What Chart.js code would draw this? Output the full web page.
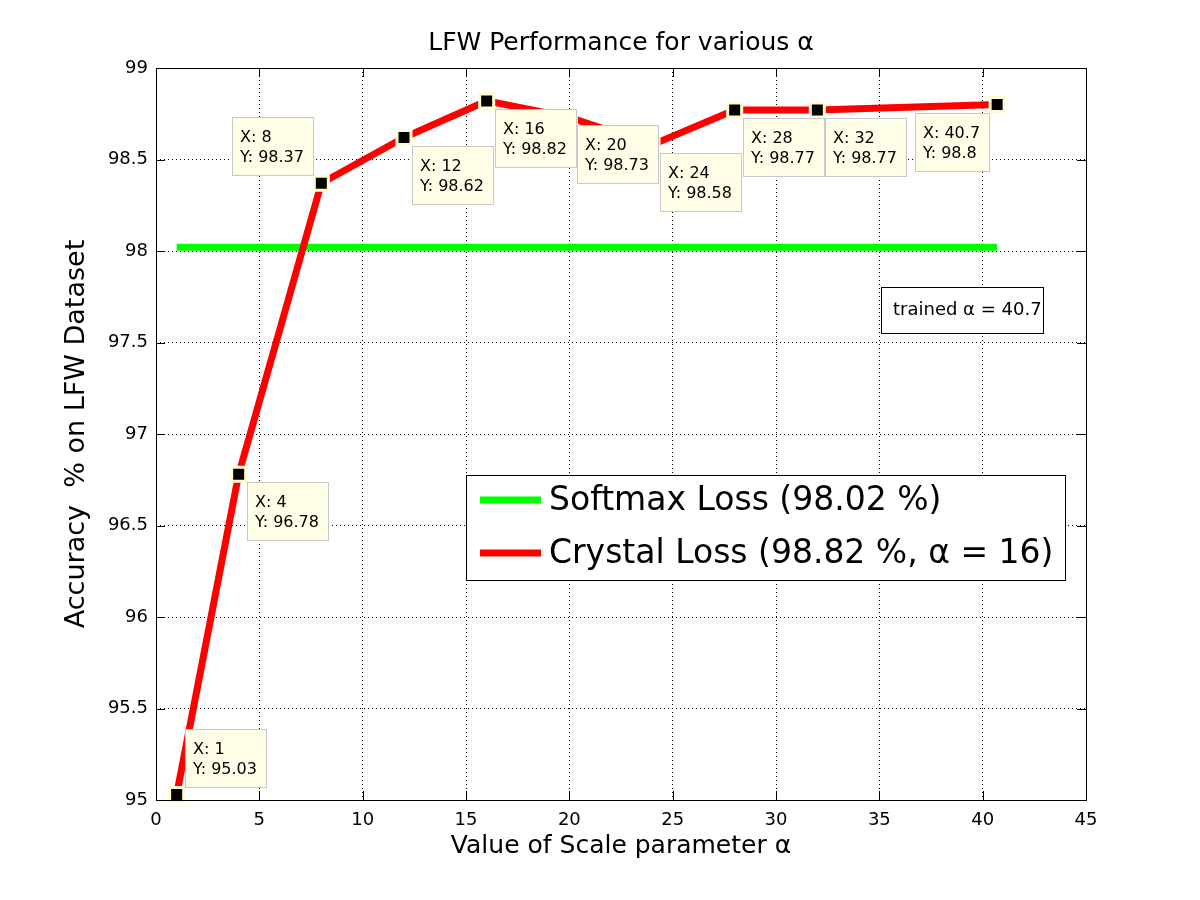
<!DOCTYPE html>
<html>
<head>
<meta charset="utf-8">
<script src="https://cdn.jsdelivr.net/npm/chart.js@4.4.1/dist/chart.umd.min.js"></script>
<style>
  html, body { margin: 0; padding: 0; background: #fff; }
  canvas { display: block; }
</style>
</head>
<body>
<canvas id="chart" width="1200" height="900"></canvas>
<script>
// values
const alphaValues = [1, 4, 8, 12, 16, 20, 24, 28, 32, 40.7];
const crystalAccuracy = [95.03, 96.78, 98.37, 98.62, 98.82, 98.73, 98.58, 98.77, 98.77, 98.8];
const softmaxAlpha = [1, 40.7];
const softmaxAccuracy = [98.02, 98.02];
const xTicks = [0, 5, 10, 15, 20, 25, 30, 35, 40, 45];
const yTicks = [95, 95.5, 96, 96.5, 97, 97.5, 98, 98.5, 99];

const chartTitle = 'LFW Performance for various α';
const xTitle = 'Value of Scale parameter α';
const yTitle = 'Accuracy  % on LFW Dataset';
const softmaxLabel = 'Softmax Loss (98.02 %)';
const crystalLabel = 'Crystal Loss (98.82 %, α = 16)';
const noteText = 'trained α = 40.7';

// where each data tip sits relative to its point: r/l = right/left, u/d = above/below
const tipPlacement = ['ur', 'dr', 'ul', 'dr', 'dr', 'dr', 'dr', 'dr', 'dr', 'dl'];

const FONT = 'DejaVu Sans';

function toPoints(xs, ys) {
  return xs.map((x, i) => ({x: x, y: ys[i]}));
}

// box around the axes with inward ticks on all four sides
const framePlugin = {
  id: 'frame',
  afterDraw(chart) {
    const {ctx, chartArea: a, scales} = chart;
    ctx.save();
    ctx.strokeStyle = '#000';
    ctx.lineWidth = 1;
    ctx.beginPath();
    scales.x.ticks.forEach(t => {
      const px = Math.round(scales.x.getPixelForValue(t.value)) + 0.5;
      ctx.moveTo(px, a.bottom); ctx.lineTo(px, a.bottom - 9);
      ctx.moveTo(px, a.top); ctx.lineTo(px, a.top + 9);
    });
    scales.y.ticks.forEach(t => {
      const py = Math.round(scales.y.getPixelForValue(t.value)) + 0.5;
      ctx.moveTo(a.left, py); ctx.lineTo(a.left + 9, py);
      ctx.moveTo(a.right, py); ctx.lineTo(a.right - 9, py);
    });
    ctx.stroke();
    ctx.strokeRect(Math.round(a.left) + 0.5, Math.round(a.top) + 0.5,
      Math.round(a.right - a.left), Math.round(a.bottom - a.top));
    ctx.restore();
  }
};

// MATLAB style data tips on the crystal loss points
const dataTipPlugin = {
  id: 'dataTips',
  afterDatasetsDraw(chart) {
    const {ctx} = chart;
    const meta = chart.getDatasetMeta(1);
    ctx.save();
    ctx.font = '16px "' + FONT + '"';
    ctx.textBaseline = 'alphabetic';
    meta.data.forEach((pt, i) => {
      const l1 = 'X: ' + alphaValues[i];
      const l2 = 'Y: ' + crystalAccuracy[i];
      const w = Math.round(Math.max(ctx.measureText(l1).width, ctx.measureText(l2).width) + 17);
      const h = 58;
      const place = tipPlacement[i];
      const gap = 8;
      let bx = place[1] === 'r' ? pt.x + gap : pt.x - gap - w;
      let by = place[0] === 'u' ? pt.y - gap - h : pt.y + gap;
      bx = Math.round(bx); by = Math.round(by);
      ctx.fillStyle = '#FFFFE8';
      ctx.fillRect(bx, by, w, h);
      ctx.strokeStyle = '#C8C8C8';
      ctx.lineWidth = 1;
      ctx.strokeRect(bx + 0.5, by + 0.5, w, h);
      ctx.fillStyle = '#000';
      ctx.fillText(l1, bx + 8, by + 25);
      ctx.fillText(l2, bx + 8, by + 45);
    });
    ctx.restore();
  }
};

// legend box inside the axes
const boxLegendPlugin = {
  id: 'boxLegend',
  afterDraw(chart) {
    const {ctx, chartArea: a} = chart;
    const left = a.left + 310, top = a.top + 407, w = 599, h = 105;
    ctx.save();
    ctx.fillStyle = '#fff';
    ctx.fillRect(left, top, w, h);
    ctx.strokeStyle = '#000';
    ctx.lineWidth = 1;
    ctx.strokeRect(left + 0.5, top + 0.5, w, h);
    ctx.font = '33px "' + FONT + '"';
    ctx.textBaseline = 'middle';
    chart.data.datasets.forEach((ds, i) => {
      const cy = top + 25 + i * 53;
      ctx.strokeStyle = ds.borderColor;
      ctx.lineWidth = 7;
      ctx.beginPath();
      ctx.moveTo(left + 14, cy);
      ctx.lineTo(left + 75, cy);
      ctx.stroke();
      ctx.fillStyle = '#000';
      ctx.fillText(ds.label, left + 83, cy + 1);
    });
    ctx.restore();
  }
};

// text annotation
const notePlugin = {
  id: 'note',
  afterDraw(chart) {
    const {ctx, chartArea: a} = chart;
    const left = a.left + 725, top = a.top + 219, w = 162, h = 46;
    ctx.save();
    ctx.fillStyle = '#fff';
    ctx.fillRect(left, top, w, h);
    ctx.strokeStyle = '#000';
    ctx.lineWidth = 1;
    ctx.strokeRect(left + 0.5, top + 0.5, w, h);
    ctx.font = '18px "' + FONT + '"';
    ctx.textBaseline = 'middle';
    ctx.fillStyle = '#000';
    ctx.fillText(noteText, left + 12, top + h / 2);
    ctx.restore();
  }
};

new Chart(document.getElementById('chart'), {
  type: 'line',
  data: {
    datasets: [
      {
        label: softmaxLabel,
        data: toPoints(softmaxAlpha, softmaxAccuracy),
        borderColor: '#00FF00',
        borderWidth: 7,
        pointRadius: 0,
        order: 1
      },
      {
        label: crystalLabel,
        data: toPoints(alphaValues, crystalAccuracy),
        borderColor: '#FF0000',
        borderWidth: 7,
        pointStyle: 'rect',
        pointRadius: 9.9,
        pointBackgroundColor: '#000',
        pointBorderColor: '#FFFCD4',
        pointBorderWidth: 3,
        clip: false,
        order: 0
      }
    ]
  },
  options: {
    responsive: false,
    animation: false,
    devicePixelRatio: 1,
    events: [],
    layout: {padding: {top: 0, right: 114, bottom: 0, left: 0}},
    plugins: {
      legend: {display: false},
      tooltip: {enabled: false},
      title: {
        display: true,
        text: chartTitle,
        fullSize: false,
        color: '#000',
        font: {family: FONT, size: 25, weight: 'normal'},
        padding: {top: 28, bottom: 10}
      }
    },
    scales: {
      x: {
        type: 'linear',
        min: 0,
        max: 45,
        afterBuildTicks(scale) { scale.ticks = xTicks.map(v => ({value: v})); },
        afterFit(scale) { scale.height = 100; },
        ticks: {
          color: '#000',
          padding: 10,
          font: {family: FONT, size: 18},
          callback: v => String(v)
        },
        grid: {color: '#000', lineWidth: 1, drawTicks: false},
        border: {display: false, dash: [1, 3]},
        title: {
          display: true,
          text: xTitle,
          color: '#000',
          font: {family: FONT, size: 25},
          padding: {top: 0, bottom: 39}
        }
      },
      y: {
        type: 'linear',
        min: 95,
        max: 99,
        afterBuildTicks(scale) { scale.ticks = yTicks.map(v => ({value: v})); },
        afterFit(scale) { scale.width = 156; },
        ticks: {
          color: '#000',
          padding: 8,
          font: {family: FONT, size: 18},
          callback: v => String(v)
        },
        grid: {color: '#000', lineWidth: 1, drawTicks: false},
        border: {display: false, dash: [1, 3]},
        title: {
          display: true,
          text: yTitle,
          color: '#000',
          font: {family: FONT, size: 27},
          padding: {top: 61, bottom: 0}
        }
      }
    }
  },
  plugins: [framePlugin, dataTipPlugin, boxLegendPlugin, notePlugin]
});
</script>
</body>
</html>
